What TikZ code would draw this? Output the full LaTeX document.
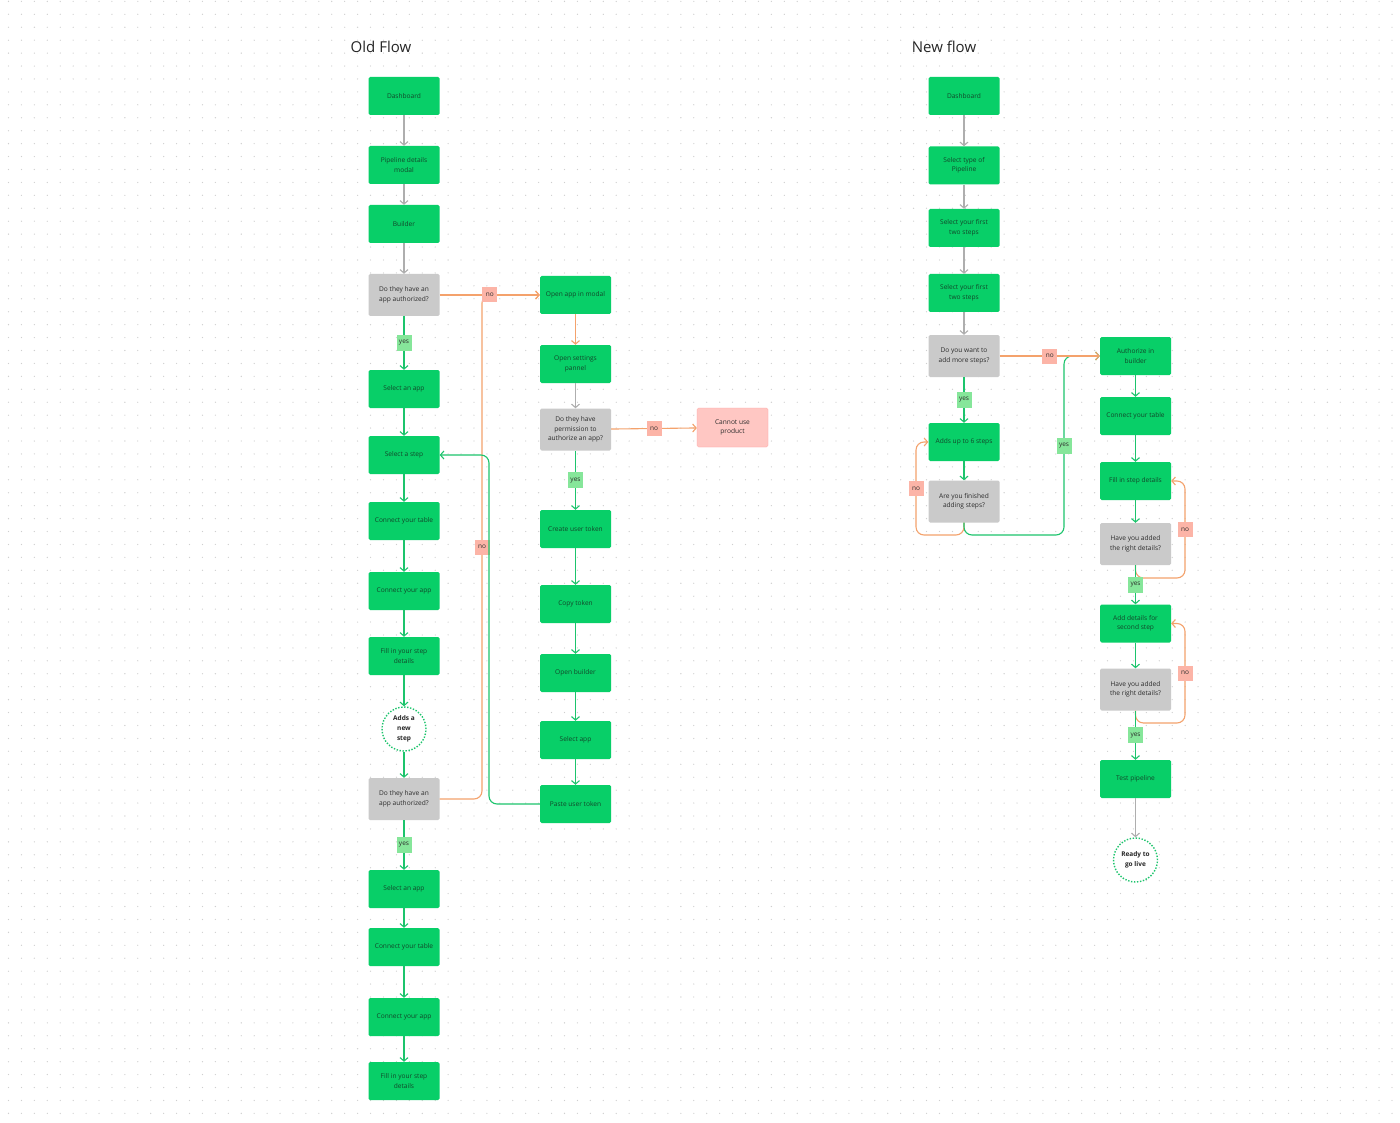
\documentclass[tikz,border=0pt]{standalone}
\usepackage{fontspec}
\setmainfont{Open Sans}
\usepackage{xcolor}
\usepackage{tikz}
\usetikzlibrary{arrows.meta}
\definecolor{boxgreen}{HTML}{08CF68}
\definecolor{boxtext}{HTML}{12472A}
\definecolor{askgray}{HTML}{CACACA}
\definecolor{asktext}{HTML}{2C2C2C}
\definecolor{linegreen}{HTML}{1CC46C}
\definecolor{lineorange}{HTML}{F4A26C}
\definecolor{linegray}{HTML}{AEAEAE}
\definecolor{nofill}{HTML}{FCB4A7}
\definecolor{yesfill}{HTML}{86E69A}
\definecolor{stopfill}{HTML}{FFC7C3}
\definecolor{dotgray}{HTML}{CFCFCF}
\tikzset{box/.style={rectangle, fill=boxgreen, rounded corners=1.5pt,
         minimum width=71pt, minimum height=38pt, inner sep=2pt,
         text=boxtext, align=center, font=\fontsize{6.6}{9.5}\selectfont},
         ask/.style={box, fill=askgray, text=asktext, minimum height=42pt}}

\begin{document}
\begin{tikzpicture}[x=1pt, y=-1pt,
  title/.style={font=\fontsize{15}{18}\selectfont, text=black!85},
  endpt/.style={circle, draw=linegreen, fill=white, line width=1.4pt,
    dash pattern=on 1.4pt off 1.6pt, minimum size=44pt, inner sep=0pt,
    align=center, font=\fontsize{6.5}{9.8}\selectfont\bfseries, text=black!85},
  stopbox/.style={box, fill=stopfill, draw=stopfill!80!red, line width=0.3pt,
    text=asktext, minimum height=39pt},
  lbl/.style={rectangle, sharp corners, inner sep=0pt, minimum width=15pt,
    minimum height=15pt, font=\fontsize{6.5}{7}\selectfont, text=asktext},
  nolbl/.style={lbl, fill=nofill},
  yeslbl/.style={lbl, fill=yesfill, minimum height=16pt},
  flow/.style={line width=1.1pt, rounded corners=8pt,
    -{Straight Barb[length=3.5pt,width=8pt]}},
  garrow/.style={flow, draw=linegreen},
  oarrow/.style={flow, draw=lineorange},
  karrow/.style={flow, draw=linegray}]
\useasboundingbox (0,0) rectangle (1400,1123);
\fill[white] (0,0) rectangle (1400,1123);
% dotted canvas
\foreach \r in {0,...,86}
  \draw[dotgray, line width=1.3pt, line cap=round, dash pattern=on 0pt off 12.93pt]
    (8.5,1.4+12.93*\r) -- (1400,1.4+12.93*\r);

% old flow, main column
\node[title] (oldT) at (381,47) {Old Flow};
\node[box] (dashA) at (404,96) {Dashboard};
\node[box] (pipeA) at (404,165) {Pipeline details\\modal};
\node[box] (buildA) at (404,224) {Builder};
\node[ask] (authA) at (404,295) {Do they have an\\app authorized?};
\node[box] (selappA) at (404,389) {Select an app};
\node[box] (selstepA) at (404,455) {Select a step};
\node[box] (tableA) at (404,521) {Connect your table};
\node[box] (appA) at (404,591) {Connect your app};
\node[box] (fillA) at (404,656) {Fill in your step\\details};
\node[endpt] (newstepA) at (404,729) {Adds a\\new\\step};
\node[ask] (authB) at (404,799) {Do they have an\\app authorized?};
\node[box] (selappB) at (404,889) {Select an app};
\node[box] (tableB) at (404,947) {Connect your table};
\node[box] (appB) at (404,1017) {Connect your app};
\node[box] (fillB) at (404,1081) {Fill in your step\\details};

% old flow, authorize column
\node[box] (modal) at (575.5,295) {Open app in modal};
\node[box] (settings) at (575.5,364) {Open settings\\pannel};
\node[ask] (perm) at (575.5,429.5) {Do they have\\permission to\\authorize an app?};
\node[stopbox] (nouse) at (732.5,427.5) {Cannot use\\product};
\node[box] (token) at (575.5,529) {Create user token};
\node[box] (copy) at (575.5,604) {Copy token};
\node[box] (openb) at (575.5,673) {Open builder};
\node[box] (selapp) at (575.5,740) {Select app};
\node[box] (paste) at (575.5,804) {Paste user token};
\coordinate (ojoin) at (482,295);
\coordinate (gjoin) at (489,455);

\draw[karrow] (dashA) -- (pipeA);
\draw[karrow] (pipeA) -- (buildA);
\draw[karrow] (buildA) -- (authA);
\draw[garrow] (authA) -- node[yeslbl]{yes} (selappA);
\draw[garrow] (selappA) -- (selstepA);
\draw[garrow] (selstepA) -- (tableA);
\draw[garrow] (tableA) -- (appA);
\draw[garrow] (appA) -- (fillA);
\draw[garrow] (fillA) -- (newstepA);
\draw[garrow] (newstepA) -- (authB);
\draw[garrow] (authB) -- node[yeslbl]{yes} (selappB);
\draw[garrow] (selappB) -- (tableB);
\draw[garrow] (tableB) -- (appB);
\draw[garrow] (appB) -- (fillB);
\draw[oarrow] (authB.east) -| node[nolbl, pos=0.75]{no} (ojoin) -- (modal.west);
\draw[oarrow] (authA) -- node[nolbl]{no} (modal);
\draw[oarrow] (modal) -- (settings);
\draw[karrow] (settings) -- (perm);
\draw[oarrow] (perm) -- node[nolbl]{no} (nouse);
\draw[garrow] (perm) -- node[yeslbl]{yes} (token);
\draw[garrow] (token) -- (copy);
\draw[garrow] (copy) -- (openb);
\draw[garrow] (openb) -- (selapp);
\draw[garrow] (selapp) -- (paste);
\draw[garrow] (paste.west) -| (gjoin) -- (selstepA.east);

% new flow
\node[title] (newT) at (944,47) {New flow};
\node[box] (dashN) at (964,96) {Dashboard};
\node[box] (typeN) at (964,165.5) {Select type of\\Pipeline};
\node[box] (firstN) at (964,228) {Select your first\\two steps};
\node[box] (secondN) at (964,293) {Select your first\\two steps};
\node[ask] (moreN) at (964,356) {Do you want to\\add more steps?};
\node[box] (upto) at (964,442) {Adds up to 6 steps};
\node[ask] (finished) at (964,501.5) {Are you finished\\adding steps?};
\node[box] (authz) at (1135.5,356) {Authorize in\\builder};
\node[box] (tableN) at (1135.5,416) {Connect your table};
\node[box] (fillN) at (1135.5,481) {Fill in step details};
\node[ask] (checkA) at (1135.5,544) {Have you added\\the right details?};
\node[box] (second) at (1135.5,623.5) {Add details for\\second step};
\node[ask] (checkB) at (1135.5,689.5) {Have you added\\the right details?};
\node[box] (test) at (1135.5,779) {Test pipeline};
\node[endpt] (live) at (1135.5,860) {Ready to\\go live};
\coordinate (oloop) at (916,535);
\coordinate (gloop) at (1064,535);
\coordinate (floopA) at (1185,578);
\coordinate (floopB) at (1185,723);

\draw[karrow] (dashN) -- (typeN);
\draw[karrow] (typeN) -- (firstN);
\draw[karrow] (firstN) -- (secondN);
\draw[karrow] (secondN) -- (moreN);
\draw[garrow] (moreN) -- node[yeslbl]{yes} (upto);
\draw[garrow] (upto) -- (finished);
\draw[oarrow] (finished.south) |- (oloop) |- node[nolbl, pos=0.25]{no} (upto.west);
\draw[garrow] (finished.south) |- (gloop) |- node[yeslbl, pos=0.25]{yes} (authz.west);
\draw[oarrow] (moreN) -- node[nolbl]{no} (authz);
\draw[garrow] (authz) -- (tableN);
\draw[garrow] (tableN) -- (fillN);
\draw[garrow] (fillN) -- (checkA);
\draw[oarrow] (checkA.south) |- (floopA) |- node[nolbl, pos=0.25]{no} (fillN.east);
\draw[garrow] (checkA) -- node[yeslbl]{yes} (second);
\draw[garrow] (second) -- (checkB);
\draw[oarrow] (checkB.south) |- (floopB) |- node[nolbl, pos=0.25]{no} (second.east);
\draw[garrow] (checkB) -- node[yeslbl]{yes} (test);
\draw[karrow] (test) -- (live);
\end{tikzpicture}
\end{document}
